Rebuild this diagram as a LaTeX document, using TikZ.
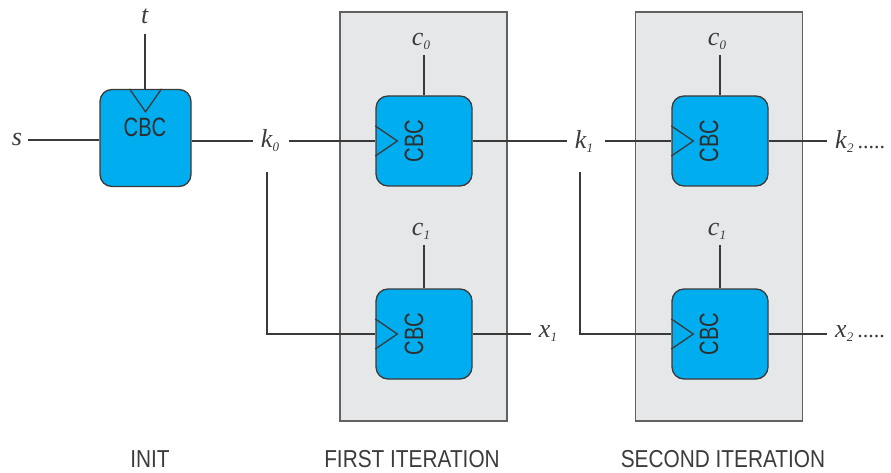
\documentclass[tikz,border=0pt]{standalone}
\usepackage{fontspec}
\setmainfont{Liberation Serif}
\newfontfamily\capfont[FakeStretch=0.85]{Liberation Sans}
\newfontfamily\boxfont[FakeStretch=0.76]{Liberation Sans}
\usetikzlibrary{calc}
\definecolor{cyanbox}{HTML}{00AEEF}
\definecolor{panelgray}{HTML}{E6E7E8}
\definecolor{ink}{HTML}{3A3A3A}
\definecolor{txt}{HTML}{3C3C3C}
\definecolor{boxtxt}{HTML}{2E2E2E}
\newcommand{\mysubvar}[2]{\textit{#1}\raisebox{-4pt}{\fontsize{13}{13}\selectfont\textit{#2}}}
\newcommand{\mydots}{{\fontsize{22}{22}\selectfont\textup{.....}}}
\begin{document}
\begin{tikzpicture}[x=1pt,y=-1pt,
  wire/.style={draw=ink,line width=1.3pt},
  cbc/.style={draw=ink,line width=1.3pt,fill=cyanbox,rounded corners=12pt,minimum width=96pt,minimum height=90pt,inner sep=0pt},
  cbctxt/.style={font=\boxfont\fontsize{26.5}{26.5}\selectfont,text=boxtxt,inner sep=0pt},
  panel/.style={draw=ink!80,fill=panelgray,line width=1.2pt,minimum width=167pt,minimum height=409pt,inner sep=0pt},
  lbl/.style={font=\fontsize{26}{26}\selectfont,text=txt,inner sep=0pt},
  capt/.style={font=\capfont\fontsize{24.5}{24.5}\selectfont,text=txt,inner sep=0pt}]
\useasboundingbox (0,0) rectangle (891,473);
% panels
\node[panel] (p1) at (423.5,216.5) {};
\node[panel] (p2) at (719,216.5) {};
% boxes
\node[cbc,minimum width=91pt,minimum height=97pt] (init) at (145.5,138) {};
\node[cbc] (b1) at (424,141) {};
\node[cbc] (b2) at (424,334) {};
\node[cbc] (b3) at (720,141) {};
\node[cbc] (b4) at (720,334) {};
% box texts
\node[cbctxt] (tinit) at (145,127) {CBC};
\node[cbctxt,rotate=90] (t1) at (414,141) {CBC};
\node[cbctxt,rotate=90] (t2) at (414,334) {CBC};
\node[cbctxt,rotate=90] (t3) at (709,141) {CBC};
\node[cbctxt,rotate=90] (t4) at (709,334) {CBC};
% triangles
\draw[wire] ($(init.north)+(-16,0)$) -- ++(16,23) -- ++(16,-23);
\foreach \b in {b1,b2,b3,b4}{
  \draw[wire] ($(\b.west)+(0,-15)$) -- ++(22,15) -- ++(-22,15);
}
% labels
\node[lbl] (s) at (17,140) {\textit{s}};
\node[lbl] (t) at (145,16) {\textit{t}};
\node[lbl] (k0) at (270,141) {\mysubvar{k}{0}};
\node[lbl] (c0a) at (421,41) {\mysubvar{c}{0}};
\node[lbl] (c1a) at (421,231) {\mysubvar{c}{1}};
\node[lbl] (k1) at (584,141) {\mysubvar{k}{1}};
\node[lbl] (x1) at (548,334) {\mysubvar{x}{1}};
\node[lbl] (c0b) at (717,41) {\mysubvar{c}{0}};
\node[lbl] (c1b) at (717,231) {\mysubvar{c}{1}};
\node[lbl,anchor=west] (k2) at (835,141) {\mysubvar{k}{2}\hspace{4pt}\mydots};
\node[lbl,anchor=west] (x2) at (835,334) {\mysubvar{x}{2}\hspace{4pt}\mydots};
% captions
\node[capt] (cinit) at (150,459) {INIT};
\node[capt] (cfirst) at (412,459) {FIRST ITERATION};
\node[capt] (csecond) at (723,459) {SECOND ITERATION};
% connectors
\coordinate (k0d) at (267,172);
\coordinate (k1d) at (580,172);
\draw[wire,shorten <=6pt] (s.east) -- (s.east -| init.west);
\draw[wire,shorten <=10pt] (t.south) -- (t.south |- init.north);
\draw[wire,shorten >=8pt] (init.east |- k0.west) -- (k0.west);
\draw[wire,shorten <=10pt] (k0.east) -- (k0.east -| b1.west);
\draw[wire] (k0d) |- (b2.west);
\draw[wire,shorten <=6pt] (c0a.south -| b1.north) -- (b1.north);
\draw[wire,shorten <=6pt] (c1a.south -| b2.north) -- (b2.north);
\draw[wire,shorten >=8pt] (b1.east) -- (b1.east -| k1.west);
\draw[wire,shorten >=8pt] (b2.east) -- (b2.east -| x1.west);
\draw[wire,shorten <=12pt] (k1.east) -- (k1.east -| b3.west);
\draw[wire] (k1d) |- (b4.west);
\draw[wire,shorten <=6pt] (c0b.south -| b3.north) -- (b3.north);
\draw[wire,shorten <=6pt] (c1b.south -| b4.north) -- (b4.north);
\draw[wire,shorten >=8pt] (b3.east) -- (b3.east -| k2.west);
\draw[wire,shorten >=8pt] (b4.east) -- (b4.east -| x2.west);
\end{tikzpicture}
\end{document}
